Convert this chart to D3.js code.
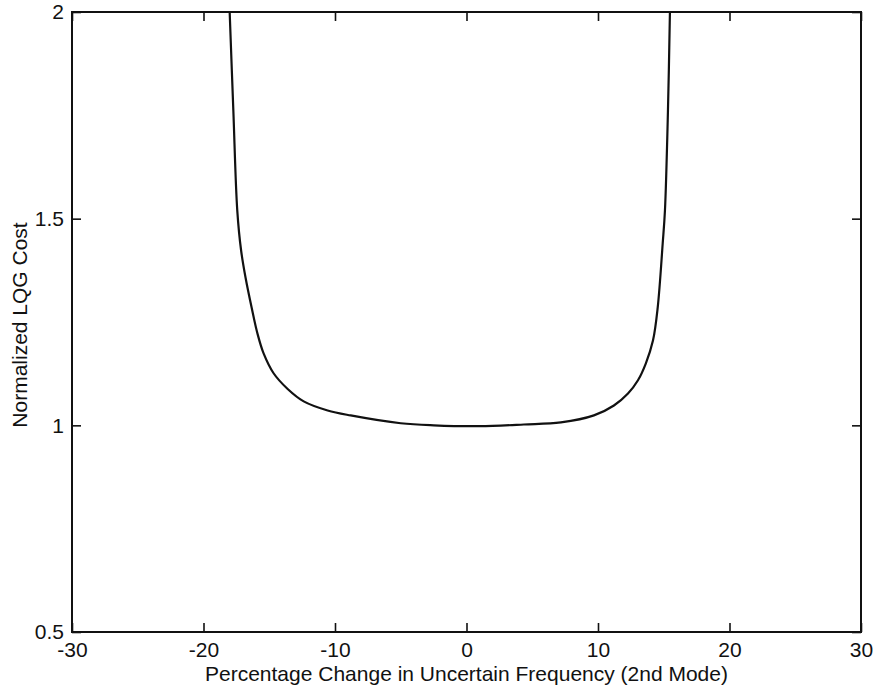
<!DOCTYPE html>
<html>
<head>
<meta charset="utf-8">
<script src="https://cdn.jsdelivr.net/npm/d3@7"></script>
<style>
  body { margin: 0; background: #fff; }
  text { font-family: "Liberation Sans", Arial, Helvetica, sans-serif; fill: #111; }
</style>
</head>
<body>
<svg width="875" height="691"></svg>
<script>
// percentage change in uncertain frequency (x) vs normalized LQG cost (y)
var freqChange = [-18.01, -17.73, -17.43, -17.14, -16.80, -16.34, -15.88, -15.43, -14.67, -13.60, -12.38, -10.56, -8.81, -5.0, -2.49, 1.0, 4.36, 7.18, 9.69, 11.21, 12.28, 13.04, 13.64, 14.18, 14.54, 14.92, 15.09, 15.32, 15.47];
var lqgCost    = [2.0, 1.761, 1.519, 1.423, 1.357, 1.285, 1.220, 1.174, 1.126, 1.088, 1.058, 1.036, 1.024, 1.005, 1.0, 0.998, 1.002, 1.007, 1.024, 1.048, 1.077, 1.109, 1.150, 1.205, 1.285, 1.440, 1.519, 1.761, 2.0];

var xTicks = [-30, -20, -10, 0, 10, 20, 30];
var yTicks = [0.5, 1, 1.5, 2];

var svg = d3.select("svg");
var margin = {left: 72, right: 14, top: 12, bottom: 59};
var width = 875 - margin.left - margin.right,
	height = 691 - margin.top - margin.bottom;

var g = svg.append("g")
	.attr("transform", "translate(" + margin.left + "," + margin.top + ")");

var x = d3.scaleLinear().domain([-30, 30]).range([0, width]);
var y = d3.scaleLinear().domain([0.5, 2]).range([height, 0]);

var tickLen = 9;
var fmt = function(d) { return String(d); }; // plain hyphen minus like the original

// box
g.append("rect")
	.attr("width", width)
	.attr("height", height)
	.attr("fill", "none")
	.attr("stroke", "#111")
	.attr("stroke-width", 2);

// axes, ticks inward
var xAxis = g.append("g")
	.attr("transform", "translate(0," + height + ")")
	.call(d3.axisBottom(x).tickValues(xTicks).tickSizeInner(-tickLen).tickSizeOuter(0).tickPadding(10).tickFormat(fmt));
var xTop = g.append("g")
	.call(d3.axisTop(x).tickValues(xTicks).tickSizeInner(-tickLen).tickSizeOuter(0).tickFormat(""));
var yAxis = g.append("g")
	.call(d3.axisLeft(y).tickValues(yTicks).tickSizeInner(-tickLen).tickSizeOuter(0).tickPadding(8).tickFormat(fmt));
var yRight = g.append("g")
	.attr("transform", "translate(" + width + ",0)")
	.call(d3.axisRight(y).tickValues(yTicks).tickSizeInner(-tickLen).tickSizeOuter(0).tickFormat(""));

[xAxis, xTop, yAxis, yRight].forEach(function(a) {
	a.select(".domain").remove();
	a.selectAll("line").attr("stroke", "#111").attr("stroke-width", 1.6);
	a.selectAll("text").attr("font-size", 21).attr("fill", "#111");
});

// clip for the curve
g.append("clipPath").attr("id", "clip")
	.append("rect").attr("width", width).attr("height", height);

var line = d3.line()
	.x(function(d) { return x(d); })
	.y(function(d, i) { return y(lqgCost[i]); })
	.curve(d3.curveCatmullRom.alpha(0.5));

g.append("path")
	.datum(freqChange)
	.attr("clip-path", "url(#clip)")
	.attr("fill", "none")
	.attr("stroke", "#111")
	.attr("stroke-width", 2.2)
	.attr("d", line);

// labels
svg.append("text")
	.attr("x", margin.left + width / 2)
	.attr("y", 681)
	.attr("text-anchor", "middle")
	.attr("font-size", 21)
	.text("Percentage Change in Uncertain Frequency (2nd Mode)");

svg.append("text")
	.attr("transform", "translate(27,325) rotate(-90)")
	.attr("text-anchor", "middle")
	.attr("font-size", 21)
	.text("Normalized LQG Cost");
</script>
</body>
</html>
